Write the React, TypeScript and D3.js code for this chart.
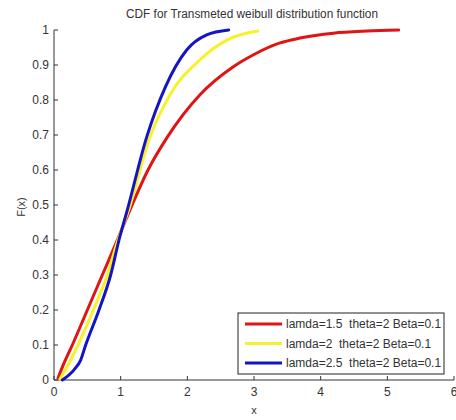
import React from "react";
import * as d3 from "d3";

const title = "CDF for Transmeted weibull distribution function";
const xLabel = "x";
const yLabel = "F(x)";
const xTicks = [0, 1, 2, 3, 4, 5, 6];
const yTicks = [0, 0.1, 0.2, 0.3, 0.4, 0.5, 0.6, 0.7, 0.8, 0.9, 1];

const seriesNames = [
  "lamda=1.5  theta=2 Beta=0.1",
  "lamda=2  theta=2 Beta=0.1",
  "lamda=2.5  theta=2 Beta=0.1",
];

const redX = [0.06, 0.15, 0.275, 0.5, 0.725, 0.95, 1.14, 1.41, 1.7, 2.19, 2.69, 3.0, 3.39, 3.69, 4.19, 4.7, 5.17];
const redY = [0.005, 0.048, 0.1, 0.2, 0.3, 0.4, 0.486, 0.6, 0.694, 0.815, 0.895, 0.93, 0.963, 0.977, 0.991, 0.997, 1.0];

const yellowX = [0.09, 0.225, 0.36, 0.59, 0.8, 0.96, 1.12, 1.44, 1.74, 2.19, 2.6, 3.06];
const yellowY = [0.003, 0.048, 0.1, 0.2, 0.3, 0.4, 0.486, 0.694, 0.815, 0.915, 0.972, 0.997];

const blueX = [0.125, 0.3, 0.4, 0.475, 0.675, 0.85, 0.975, 1.1, 1.39, 1.67, 1.99, 2.29, 2.62];
const blueY = [0.0, 0.029, 0.057, 0.1, 0.2, 0.3, 0.4, 0.486, 0.694, 0.837, 0.943, 0.986, 1.0];

const colors = ["#e01414", "#f6f22a", "#1414c4"];

const W = 456;
const H = 420;
const left = 54;
const right = 454;
const top = 30;
const bottom = 380;

export default function App() {
  const x = d3.scaleLinear().domain([0, 6]).range([left, right]);
  const y = d3.scaleLinear().domain([0, 1]).range([bottom, top]);
  const line = d3
    .line<[number, number]>()
    .x((d) => x(d[0]))
    .y((d) => y(d[1]))
    .curve(d3.curveMonotoneX);

  const series = [
    redX.map((v, i) => [v, redY[i]] as [number, number]),
    yellowX.map((v, i) => [v, yellowY[i]] as [number, number]),
    blueX.map((v, i) => [v, blueY[i]] as [number, number]),
  ];

  const font = "'Liberation Sans', Arial, sans-serif";
  const textColor = "#333";

  const lg = { x: 238, y: 313, w: 206, h: 61 };

  return (
    <svg
      width={W}
      height={H}
      style={{ position: "absolute", left: 0, top: 0, background: "#fff" }}
      fontFamily={font}
    >
      <rect x={0} y={0} width={W} height={H} fill="#fff" />
      <text x={252} y={18} textAnchor="middle" fontSize={12} fill={textColor} textLength={252} lengthAdjust="spacingAndGlyphs">
        {title}
      </text>
      {/* axes */}
      <line x1={left} x2={left} y1={top} y2={bottom} stroke="#333" strokeWidth={1} />
      <line x1={left} x2={right} y1={bottom} y2={bottom} stroke="#333" strokeWidth={1} />
      {yTicks.map((t) => (
        <g key={"y" + t}>
          <line x1={left} x2={left + 4} y1={y(t)} y2={y(t)} stroke="#333" />
          <text x={left - 5} y={y(t)} dy="0.35em" textAnchor="end" fontSize={12} fill={textColor}>
            {String(t)}
          </text>
        </g>
      ))}
      {xTicks.map((t) => (
        <g key={"x" + t}>
          <line x1={x(t)} x2={x(t)} y1={bottom} y2={bottom - 4} stroke="#333" />
          <text x={x(t)} y={bottom + 16} textAnchor="middle" fontSize={12} fill={textColor}>
            {String(t)}
          </text>
        </g>
      ))}
      <text x={254} y={414} textAnchor="middle" fontSize={11} fill={textColor}>
        {xLabel}
      </text>
      <text
        transform={`translate(25,207) rotate(-90)`}
        textAnchor="middle"
        fontSize={11}
        fill={textColor}
      >
        {yLabel}
      </text>
      {series.map((s, i) => (
        <path key={i} d={line(s) || ""} fill="none" stroke={colors[i]} strokeWidth={3} strokeLinejoin="round" strokeLinecap="round" />
      ))}
      {/* legend */}
      <rect x={lg.x} y={lg.y} width={lg.w} height={lg.h} fill="#fff" stroke="#222" strokeWidth={1} />
      {seriesNames.map((n, i) => {
        const ry = 324 + i * 19.5;
        return (
          <g key={n}>
            <line x1={245} x2={282} y1={ry} y2={ry} stroke={colors[i]} strokeWidth={3} />
            <text x={286} y={ry} dy="0.35em" fontSize={12} fill={textColor} style={{ whiteSpace: "pre" }}>
              {n}
            </text>
          </g>
        );
      })}
    </svg>
  );
}
